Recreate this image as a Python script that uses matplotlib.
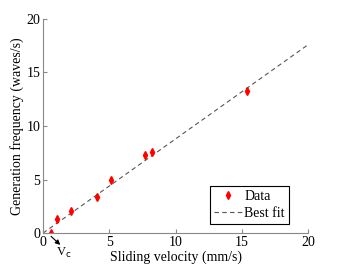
import matplotlib
matplotlib.use("Agg")
import matplotlib.pyplot as plt

# measured data
velocity = [0.6, 1.05, 2.1, 4.1, 5.1, 7.7, 8.2, 15.4]
frequency = [0.0, 1.3, 2.1, 3.4, 5.0, 7.3, 7.6, 13.3]

# best fit line endpoints
fit_x = [0, 20]
fit_y = [0.0, 17.6]

plt.rcParams['font.family'] = ['Liberation Serif', 'DejaVu Serif']
FONTSIZE = 10

fig = plt.figure(figsize=(3.39, 2.67), dpi=100)
ax = fig.add_axes([0.127, 0.127, 0.782, 0.802])

ax.plot(fit_x, fit_y, '--', color='#555555', lw=0.8, dashes=(4, 3), label='Best fit')
ax.plot(velocity, frequency, 'd', color='red', ms=4, label='Data')

ax.set_xlim(0, 20)
ax.set_ylim(0, 20)
ax.set_xticks([0, 5, 10, 15, 20])
ax.set_yticks([0, 5, 10, 15, 20])

for side in ['top', 'right']:
    ax.spines[side].set_visible(False)
for side in ['left', 'bottom']:
    ax.spines[side].set_color('#888888')
ax.tick_params(direction='in', length=3, color='#888888', labelsize=FONTSIZE, pad=2)

ax.set_xlabel('Sliding velocity (mm/s)', fontsize=FONTSIZE, labelpad=1)
ax.set_ylabel('Generation frequency (waves/s)', fontsize=FONTSIZE, labelpad=2)

# Vc arrow and label below the axis
ax.annotate('', xy=(1.3, -1.1), xytext=(0.6, -0.3), annotation_clip=False,
            arrowprops=dict(arrowstyle='-|>', color='black', lw=0.8, mutation_scale=7,
                            shrinkA=0, shrinkB=0))
ax.text(1.0, -1.2, 'V$_\\mathrm{c}$', fontsize=FONTSIZE - 1, ha='left', va='top',
        clip_on=False)

handles, labels = ax.get_legend_handles_labels()
leg = ax.legend([handles[1], handles[0]], [labels[1], labels[0]],
                loc='lower right', bbox_to_anchor=(0.928, 0.042), borderaxespad=0,
                fontsize=FONTSIZE, fancybox=False, framealpha=1, edgecolor='black',
                handlelength=2.0, handletextpad=0.2, borderpad=0.3, labelspacing=0.3,
                numpoints=1)
leg.get_frame().set_linewidth(0.8)

fig.savefig('out.png', dpi=100)
